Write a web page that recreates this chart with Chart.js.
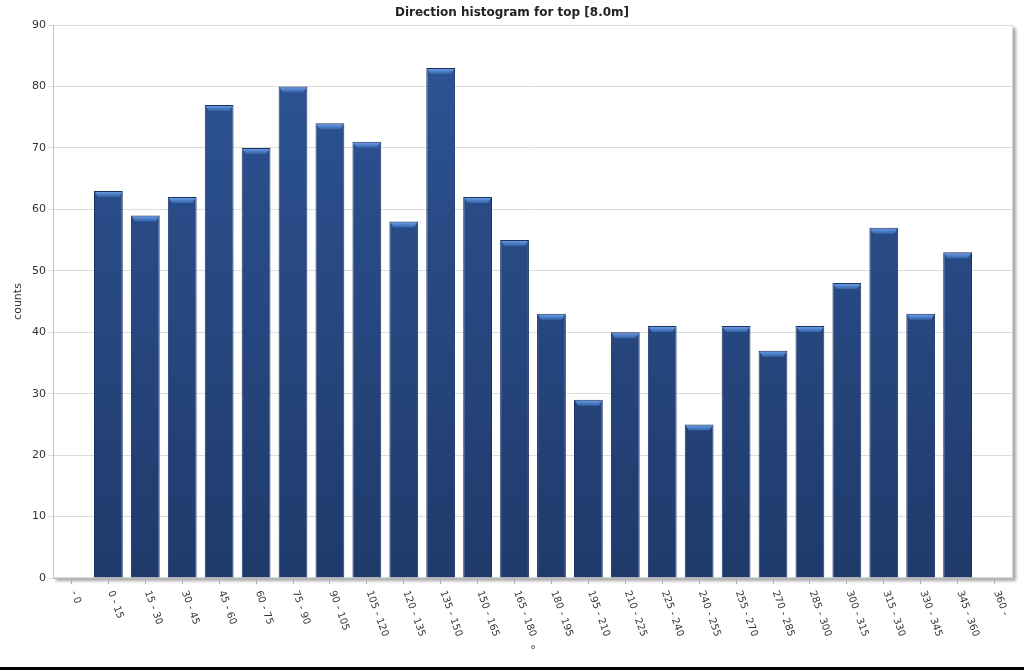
<!DOCTYPE html>
<html><head><meta charset="utf-8">
<script src="https://cdn.jsdelivr.net/npm/chart.js@4/dist/chart.umd.min.js"></script>
<style>
html,body{margin:0;padding:0;background:#fff;overflow:hidden;}
#wrap{position:relative;width:1024px;height:667px;}
#strip{width:1024px;height:3px;background:#000;}
</style></head><body>
<div id="wrap"><canvas id="c" width="1024" height="667"></canvas></div>
<div id="strip"></div>
<script>
const titleText = "Direction histogram for top [8.0m]";
const yTitle = "counts";
const xTitle = "°";
const categories = ["- 0","0 - 15","15 - 30","30 - 45","45 - 60","60 - 75","75 - 90","90 - 105","105 - 120","120 - 135","135 - 150","150 - 165","165 - 180","180 - 195","195 - 210","210 - 225","225 - 240","240 - 255","255 - 270","270 - 285","285 - 300","300 - 315","315 - 330","330 - 345","345 - 360","360 -"];
const counts = [null,63,59,62,77,70,80,74,71,58,83,62,55,43,29,40,41,25,41,37,41,48,57,43,53,null];
const yMin = 0, yMax = 90, yStep = 10;

const FONT = "'DejaVu Sans', Verdana, sans-serif";

const frame = {
  id: 'frame',
  beforeDraw(chart) {
    const {ctx, chartArea: a} = chart;
    ctx.save();
    ctx.shadowColor = 'rgba(0,0,0,0.35)';
    ctx.shadowOffsetX = 3; ctx.shadowOffsetY = 3; ctx.shadowBlur = 3;
    ctx.fillStyle = '#fff';
    ctx.fillRect(a.left, a.top, a.right - a.left, a.bottom - a.top);
    ctx.restore();
    ctx.save();
    ctx.strokeStyle = '#d6d6d6';
    ctx.lineWidth = 1;
    ctx.strokeRect(a.left + 0.5, a.top + 0.5, a.right - a.left - 1, a.bottom - a.top - 1);
    ctx.restore();
  }
};

const caps = {
  id: 'caps',
  afterDatasetsDraw(chart) {
    const {ctx} = chart;
    const meta = chart.getDatasetMeta(0);
    meta.data.forEach((bar, i) => {
      if (counts[i] == null) return;
      const {x, y, width} = bar.getProps(['x','y','width'], true);
      const l = x - width / 2 + 1, r = x + width / 2 - 1;
      const h = 6;
      const g = ctx.createLinearGradient(0, y, 0, y + h);
      g.addColorStop(0, '#78a6ea');
      g.addColorStop(0.5, '#5082cc');
      g.addColorStop(1, '#3563a5');
      ctx.save();
      ctx.beginPath();
      ctx.moveTo(l, y + 1);
      ctx.lineTo(r, y + 1);
      ctx.lineTo(r - 3, y + h);
      ctx.lineTo(l + 3, y + h);
      ctx.closePath();
      ctx.fillStyle = g;
      ctx.fill();
      ctx.restore();
    });
  }
};

const texts = {
  id: 'texts',
  afterDraw(chart) {
    const {ctx} = chart;
    const xs = chart.scales.x;
    ctx.save();
    ctx.font = "bold 12px " + FONT;
    ctx.fillStyle = '#222';
    ctx.textAlign = 'center';
    ctx.textBaseline = 'middle';
    ctx.fillText(titleText, 512, 13);
    ctx.font = "10px " + FONT;
    ctx.fillStyle = '#333';
    ctx.textAlign = 'left';
    ctx.textBaseline = 'middle';
    xs.ticks.forEach((t, i) => {
      const px = xs.getPixelForTick(i);
      ctx.save();
      ctx.translate(px + 2, xs.top + 13);
      ctx.rotate(70 * Math.PI / 180);
      ctx.fillText(categories[i], 0, 0);
      ctx.restore();
    });
    ctx.restore();
  }
};

new Chart(document.getElementById('c'), {
  type: 'bar',
  data: {
    labels: categories,
    datasets: [{
      data: counts,
      backgroundColor: (c) => {
        const a = c.chart.chartArea;
        if (!a) return '#284a85';
        const g = c.chart.ctx.createLinearGradient(0, a.top, 0, a.bottom);
        g.addColorStop(0, '#2e5596');
        g.addColorStop(1, '#1f3a6b');
        return g;
      },
      borderColor: '#1a3260',
      borderWidth: 1,
      borderSkipped: 'bottom',
      barPercentage: 0.78,
      categoryPercentage: 1.0
    }]
  },
  options: {
    responsive: false,
    animation: false,
    devicePixelRatio: 1,
    layout: { padding: { left: 0, right: 11, top: 25, bottom: 0 } },
    plugins: {
      legend: { display: false },
      tooltip: { enabled: false },
      title: { display: false }
    },
    scales: {
      x: {
        offset: true,
        grid: { display: true, offset: false, drawOnChartArea: false, drawTicks: true, tickLength: 6, color: '#b0b0b0' },
        border: { display: true, color: '#b8b8b8' },
        ticks: { display: false },
        title: { display: true, text: xTitle, color: '#333', font: { family: FONT, size: 11 }, padding: { top: 0, bottom: 10 } },
        afterFit: (s) => { s.height = 89; }
      },
      y: {
        min: yMin, max: yMax,
        grid: { color: '#dcdcdc', tickLength: 5, drawTicks: true },
        border: { display: true, color: '#c4c4c4' },
        ticks: { stepSize: yStep, color: '#333', font: { family: FONT, size: 11 }, padding: 2 },
        title: { display: true, text: yTitle, color: '#333', font: { family: FONT, size: 11 }, padding: { top: 12, bottom: 0 } },
        afterFit: (s) => { s.width = 53; }
      }
    }
  },
  plugins: [frame, caps, texts]
});
</script>
</body></html>
